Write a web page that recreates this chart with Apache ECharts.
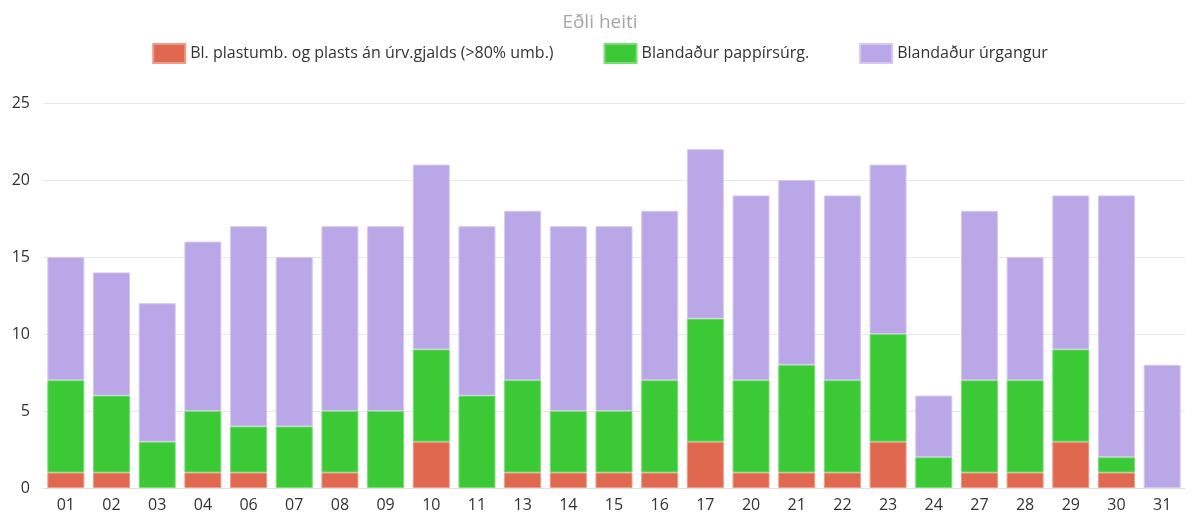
<!DOCTYPE html>
<html>
<head>
<meta charset="utf-8">
<script src="https://cdn.jsdelivr.net/npm/echarts@6/dist/echarts.min.js"></script>
<style>
  html, body { margin: 0; padding: 0; background: #fff; }
  #chart { width: 1200px; height: 519px; }
</style>
</head>
<body>
<div id="chart"></div>
<script>
var days = ["01", "02", "03", "04", "06", "07", "08", "09", "10", "11", "13", "14", "15",
    "16", "17", "20", "21", "22", "23", "24", "27", "28", "29", "30", "31"];
var plast = [1, 1, 0, 1, 1, 0, 1, 0, 3, 0, 1, 1, 1, 1, 3, 1, 1, 1, 3, 0, 1, 1, 3, 1, 0];
var pappir = [6, 5, 3, 4, 3, 4, 4, 5, 6, 6, 6, 4, 4, 6, 8, 6, 7, 6, 7, 2, 6, 6, 6, 1, 0];
var blandad = [8, 8, 9, 11, 13, 11, 12, 12, 12, 11, 11, 12, 12, 11, 11, 12, 12, 12, 11, 4, 11, 8, 10, 17, 8];
var yTicks = { min: 0, max: 25, interval: 5 };

var chart = echarts.init(document.getElementById("chart"));
var font = "'Open Sans', 'Noto Sans', sans-serif";

// tómir dagar teiknast ekki (annars sést borderinn)
function bar(name, data, color, border) {
    return {
        name: name,
        type: "bar",
        stack: "total",
        data: data.map(function (v) { return v === 0 ? "-" : v; }),
        barWidth: "81%",
        itemStyle: { color: color, borderColor: border, borderWidth: 1 },
        emphasis: { disabled: true }
    };
}

chart.setOption({
    animation: false,
    textStyle: { fontFamily: font },
    title: {
        text: "Eðli heiti",
        left: "center",
        top: 8,
        textStyle: { color: "#a6a6a6", fontSize: 19, fontWeight: "normal", fontFamily: font }
    },
    legend: {
        top: 38,
        left: "center",
        itemWidth: 32,
        itemHeight: 19,
        itemGap: 50,
        icon: "rect",
        textStyle: { color: "#333", fontSize: 16, fontFamily: font },
        data: ["Bl. plastumb. og plasts án úrv.gjalds (>80% umb.)", "Blandaður pappírsúrg.", "Blandaður úrgangur"]
    },
    grid: { left: 43, right: 15, top: 103, bottom: 31, containLabel: false },
    xAxis: {
        type: "category",
        data: days,
        axisTick: { show: false },
        axisLine: { lineStyle: { color: "#e0e0e0" } },
        axisLabel: { color: "#333", fontSize: 16, margin: 9, fontFamily: font }
    },
    yAxis: {
        type: "value",
        min: yTicks.min,
        max: yTicks.max,
        interval: yTicks.interval,
        axisLine: { show: false },
        axisTick: { show: false },
        splitLine: { lineStyle: { color: "#e8e8e8", width: 1 } },
        axisLabel: { color: "#333", fontSize: 16, margin: 13, fontFamily: font }
    },
    series: [
        bar("Bl. plastumb. og plasts án úrv.gjalds (>80% umb.)", plast, "#e0684f", "#ec9b8b"),
        bar("Blandaður pappírsúrg.", pappir, "#3bca36", "#7ddb79"),
        bar("Blandaður úrgangur", blandad, "#baa7e7", "#d4c8f0")
    ]
});
</script>
</body>
</html>
